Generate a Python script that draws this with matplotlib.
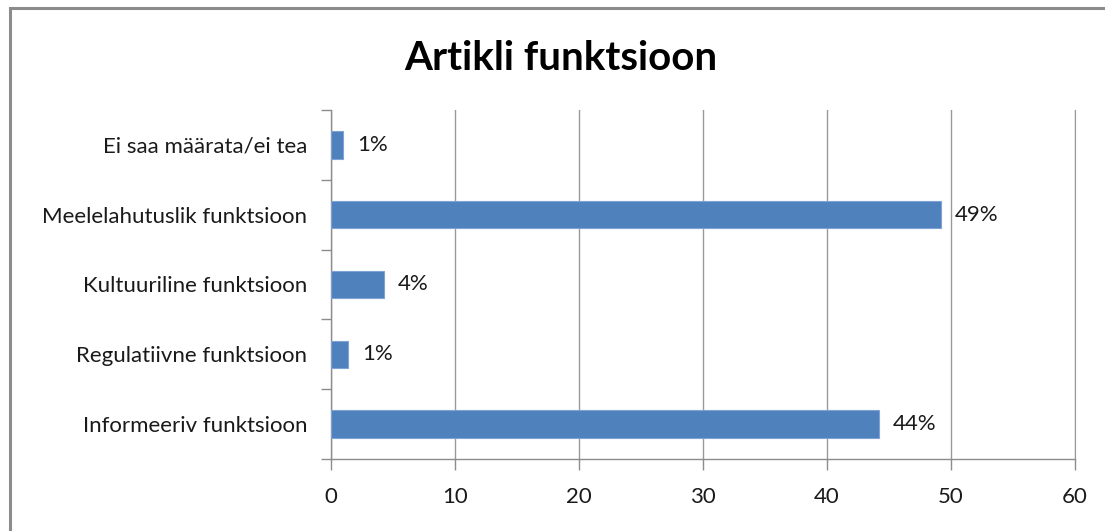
import matplotlib.pyplot as plt
from matplotlib.patches import Rectangle

categories = ['Informeeriv funktsioon', 'Regulatiivne funktsioon', 'Kultuuriline funktsioon',
              'Meelelahutuslik funktsioon', 'Ei saa määrata/ei tea']
values = [44.2, 1.4, 4.3, 49.2, 1.0]
labels = ['44%', '1%', '4%', '49%', '1%']
xticks = [0, 10, 20, 30, 40, 50, 60]

plt.rcParams['font.family'] = ['Lato', 'DejaVu Sans']

fig = plt.figure(figsize=(11.05, 5.31), dpi=100)
ax = fig.add_axes([331/1105, 1-459/531, 744/1105, 349/531])

# outer chart frame (runs off right and bottom edge)
fig.patches.append(Rectangle((10/1105, -0.1), 1.2, 1-8/531+0.1, transform=fig.transFigure,
                             fill=False, edgecolor='#8c8c8c', lw=2.2))

y = range(len(categories))
ax.barh(y, values, height=0.39, color='#4f81bd', edgecolor='#7ea3d4', lw=0.8, zorder=3)
for i, (v, t) in enumerate(zip(values, labels)):
    ax.text(v + 1.1, i, t, va='center', ha='left', fontsize=16, color='#1a1a1a')

ax.set_xlim(0, 60)
ax.set_ylim(-0.5, len(categories) - 0.5)
ax.set_xticks(xticks)
ax.set_yticks([i - 0.5 for i in range(len(categories) + 1)], minor=False)
ax.set_yticklabels([])
ax.set_yticks(list(y), minor=True)
ax.set_yticklabels(categories, minor=True)
ax.tick_params(axis='y', which='minor', length=0, pad=17, labelsize=16, labelcolor='#1a1a1a')
ax.tick_params(axis='y', which='major', length=7, color='#8c8c8c', width=1)
ax.tick_params(axis='x', length=8, color='#8c8c8c', width=1, pad=12, labelsize=16, labelcolor='#1a1a1a')
ax.grid(axis='x', color='#999999', lw=1, zorder=0)
ax.spines['top'].set_visible(False)
ax.spines['right'].set_color('#999999')
for s in ['left', 'bottom']:
    ax.spines[s].set_color('#8c8c8c')
    ax.spines[s].set_linewidth(1)

fig.text(561/1105, 1-58/531, 'Artikli funktsioon', ha='center', va='center',
         fontsize=29, fontweight='bold', color='black')

plt.savefig('out.png', dpi=100)
